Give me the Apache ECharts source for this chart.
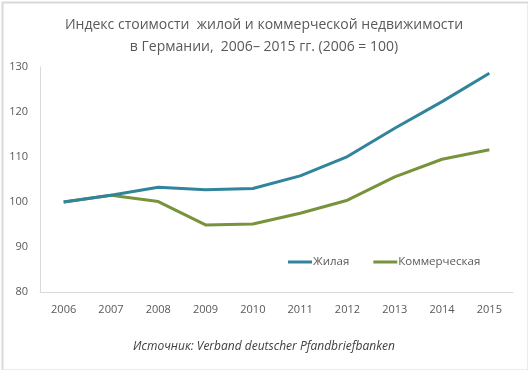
<!DOCTYPE html>
<html><head><meta charset="utf-8">
<script src="https://cdn.jsdelivr.net/npm/echarts@6/dist/echarts.min.js"></script>
<style>html,body{margin:0;padding:0;background:#fff}#c{width:528px;height:370px}</style>
</head><body><div id="c"></div>
<script>
const years = ['2006','2007','2008','2009','2010','2011','2012','2013','2014','2015'];
const residential = [100, 101.5, 103.3, 102.7, 103.0, 105.8, 110.1, 116.4, 122.3, 128.6];
const commercial = [100, 101.5, 100.1, 94.9, 95.1, 97.5, 100.4, 105.6, 109.5, 111.6];
const seriesNames = ['Жилая', 'Коммерческая'];
const titleText = 'Индекс стоимости  жилой и коммерческой недвижимости\nв Германии,  2006– 2015 гг. (2006 = 100)';
const sourceText = 'Источник: Verband deutscher Pfandbriefbanken';

const FONT = 'Open Sans';
const chart = echarts.init(document.getElementById('c'));
chart.setOption({
  animation: false,
  backgroundColor: '#fff',
  textStyle: {fontFamily: FONT},
  title: {
    text: titleText, left: 'center', top: 9,
    textStyle: {fontFamily: FONT, fontSize: 14, fontWeight: 'normal', color: '#595959', lineHeight: 22, align: 'center'}
  },
  grid: {left: 40, right: 15, top: 67, bottom: 78, containLabel: false},
  legend: {
    left: 283, top: 251, itemWidth: 24, itemHeight: 3, itemGap: 24, icon: 'rect',
    textStyle: {fontFamily: FONT, fontSize: 11.5, color: '#595959', padding: [0, 0, 0, -4]},
    data: seriesNames
  },
  xAxis: {
    type: 'category', data: years, boundaryGap: true,
    axisLine: {lineStyle: {color: '#d9d9d9', width: 1}},
    axisTick: {show: false},
    axisLabel: {color: '#595959', fontSize: 11, margin: 12, fontFamily: FONT}
  },
  yAxis: {
    type: 'value', min: 80, max: 130, interval: 10,
    axisLine: {show: true, lineStyle: {color: '#d9d9d9', width: 1}},
    axisTick: {show: false},
    splitLine: {show: false},
    axisLabel: {color: '#595959', fontSize: 11, margin: 12, fontFamily: FONT}
  },
  series: [
    {name: seriesNames[0], type: 'line', data: residential, symbol: 'none',
     lineStyle: {color: '#31849b', width: 3}, itemStyle: {color: '#31849b'}, z: 3},
    {name: seriesNames[1], type: 'line', data: commercial, symbol: 'none',
     lineStyle: {color: '#77933c', width: 3}, itemStyle: {color: '#77933c'}, z: 2}
  ],
  graphic: [
    {type: 'rect', left: 0, top: 0, shape: {x: 1, y: 1, width: 526, height: 368},
     style: {fill: 'none', stroke: '#d9d9d9', lineWidth: 2}, silent: true},
    {type: 'text', left: 'center', top: 341,
     style: {text: sourceText, fontFamily: FONT, fontSize: 12, fontStyle: 'italic', fill: '#404040'}}
  ]
});
</script></body></html>
